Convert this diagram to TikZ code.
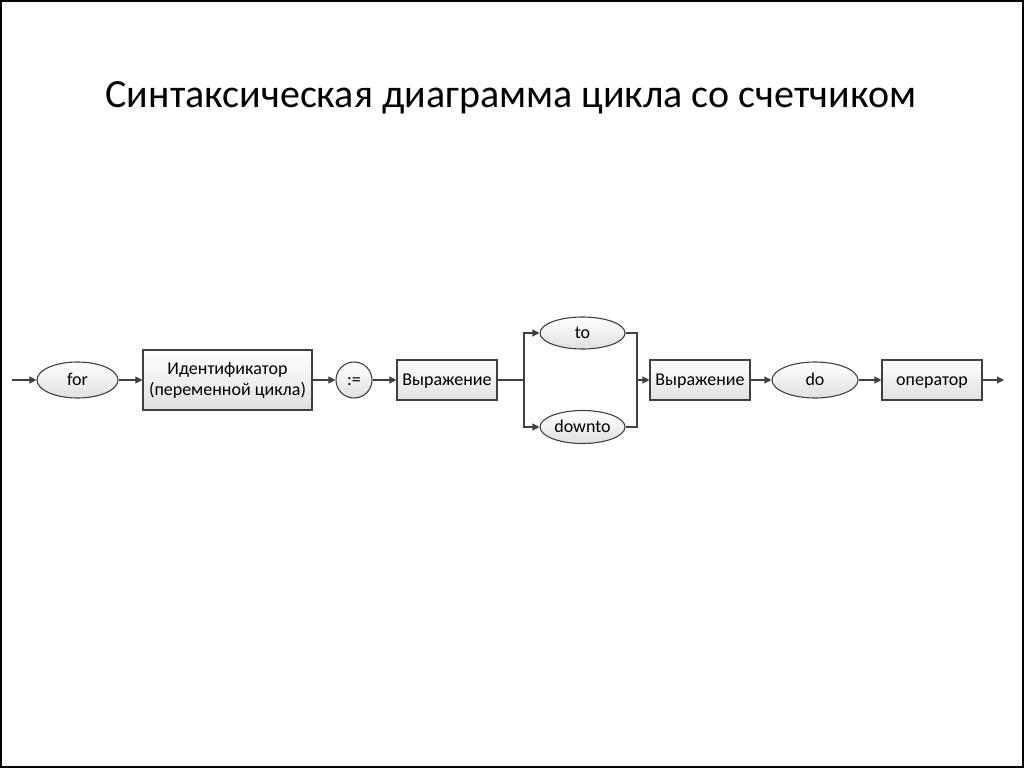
\documentclass[tikz,border=0pt]{standalone}
\usepackage{fontspec}
\setmainfont{Carlito}
\usetikzlibrary{shapes.geometric,arrows.meta}
\definecolor{strk}{HTML}{404040}
\tikzset{
  shp/.style={draw=strk, line width=1.1pt, top color=white, bottom color=black!12, font=\fontsize{18}{21}\selectfont, inner sep=2pt},
  one/.style={text height=14pt, text depth=3.5pt},
  boxn/.style={shp, rectangle, minimum height=40pt},
  ovaln/.style={shp, one, ellipse, minimum height=36pt, inner sep=0pt},
  conn/.style={draw=strk, line width=1.1pt},
  arr/.style={conn, -{Triangle[length=7pt,width=7pt]}},
}
\begin{document}
\begin{tikzpicture}[x=1pt,y=-1pt]
\useasboundingbox (0,0) rectangle (1024,768);
\draw[black, line width=2pt] (1,1) rectangle (1023,767);
\node[font=\fontsize{40}{44}\selectfont, anchor=base] (title) at (511,107) {Синтаксическая диаграмма цикла со счетчиком};

\coordinate (start) at (12,380);
\node[ovaln, minimum width=81pt] (for) at (77.5,380) {for};
\node[boxn, minimum width=169pt, minimum height=60pt, align=center] (id) at (227.5,380) {Идентификатор\\(переменной цикла)};
\node[ovaln, minimum width=36pt] (as) at (354,380) {:=};
\node[boxn, one, minimum width=100pt] (e1) at (447,380) {Выражение};
\node[ovaln, minimum width=85pt, minimum height=32pt] (to) at (582.5,333) {to};
\node[ovaln, minimum width=85pt, minimum height=33pt] (downto) at (582.5,427) {downto};
\node[boxn, one, minimum width=100pt] (e2) at (700,380) {Выражение};
\node[ovaln, minimum width=86pt] (do) at (815,380) {do};
\node[boxn, one, minimum width=100pt] (op) at (932,380) {оператор};
\coordinate (end) at (1004,380);
\coordinate (split) at (524,380);
\coordinate (join) at (637,380);

\draw[arr] (start) -- (for);
\draw[arr] (for) -- (id);
\draw[arr] (id) -- (as);
\draw[arr] (as) -- (e1);
\draw[conn] (e1) -- (split);
\draw[arr] (split) |- (to.west);
\draw[arr] (split) |- (downto.west);
\draw[conn] (to.east) -| (join);
\draw[conn] (downto.east) -| (join);
\draw[arr] (join) -- (e2);
\draw[arr] (e2) -- (do);
\draw[arr] (do) -- (op);
\draw[arr] (op) -- (end);
\end{tikzpicture}
\end{document}
